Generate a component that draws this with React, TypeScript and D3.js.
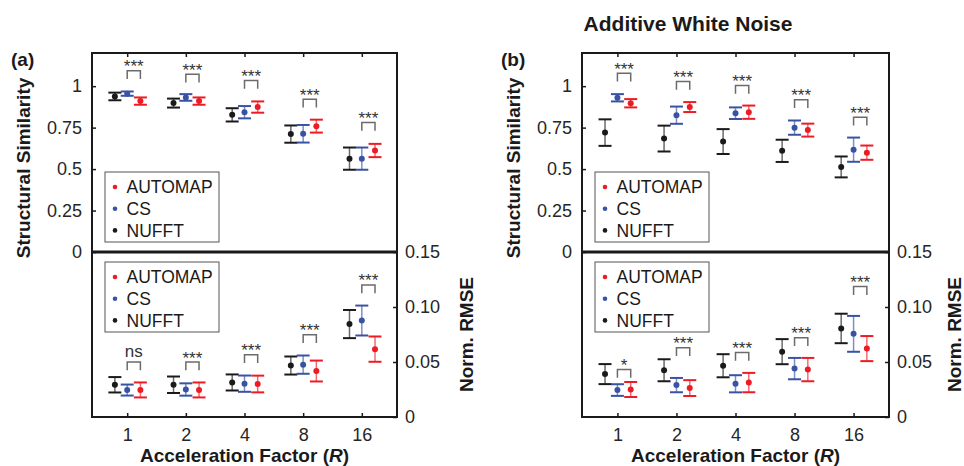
import React, { useEffect, useRef } from "react";
import * as d3 from "d3";

const factors = ["1", "2", "4", "8", "16"];
const methods = ["NUFFT", "CS", "AUTOMAP"];
const legendOrder = ["AUTOMAP", "CS", "NUFFT"];

// (a) structural similarity
const ssimA_nufft = [0.938, 0.898, 0.827, 0.711, 0.563];
const ssimA_nufftErr = [0.023, 0.027, 0.04, 0.052, 0.067];
const ssimA_cs = [0.955, 0.932, 0.843, 0.713, 0.563];
const ssimA_csErr = [0.013, 0.02, 0.037, 0.053, 0.067];
const ssimA_auto = [0.91, 0.91, 0.874, 0.759, 0.612];
const ssimA_autoErr = [0.022, 0.022, 0.034, 0.039, 0.04];
const ssimA_sig = ["***", "***", "***", "***", "***"];
const ssimA_sigLevel = [1.043, 1.022, 0.984, 0.871, 0.731];

// (a) norm. rmse
const rmseA_nufft = [0.0293, 0.0293, 0.0314, 0.0468, 0.0845];
const rmseA_nufftErr = [0.007, 0.0075, 0.0073, 0.0082, 0.0128];
const rmseA_cs = [0.0245, 0.025, 0.0303, 0.0476, 0.0877];
const rmseA_csErr = [0.005, 0.0056, 0.0074, 0.0083, 0.0136];
const rmseA_auto = [0.0246, 0.0246, 0.03, 0.0418, 0.0617];
const rmseA_autoErr = [0.0068, 0.0068, 0.0076, 0.0095, 0.0115];
const rmseA_sig = ["ns", "***", "***", "***", "***"];
const rmseA_sigLevel = [0.0424, 0.0424, 0.049, 0.0672, 0.1125];

// (b) structural similarity, additive white noise
const ssimB_nufft = [0.72, 0.684, 0.666, 0.61, 0.513];
const ssimB_nufftErr = [0.08, 0.078, 0.075, 0.067, 0.063];
const ssimB_cs = [0.93, 0.825, 0.837, 0.75, 0.617];
const ssimB_csErr = [0.022, 0.052, 0.035, 0.043, 0.073];
const ssimB_auto = [0.897, 0.874, 0.843, 0.735, 0.599];
const ssimB_autoErr = [0.025, 0.03, 0.04, 0.039, 0.043];
const ssimB_sig = ["***", "***", "***", "***", "***"];
const ssimB_sigLevel = [1.028, 0.978, 0.954, 0.868, 0.763];

// (b) norm. rmse
const rmseB_nufft = [0.039, 0.0425, 0.0466, 0.0594, 0.0805];
const rmseB_nufftErr = [0.0091, 0.01, 0.0105, 0.0114, 0.0134];
const rmseB_cs = [0.0245, 0.029, 0.0302, 0.044, 0.0756];
const rmseB_csErr = [0.0053, 0.0065, 0.0078, 0.0097, 0.0163];
const rmseB_auto = [0.025, 0.0263, 0.0313, 0.0431, 0.0622];
const rmseB_autoErr = [0.0068, 0.0072, 0.0088, 0.0106, 0.0114];
const rmseB_sig = ["*", "***", "***", "***", "***"];
const rmseB_sigLevel = [0.0356, 0.0554, 0.0511, 0.0645, 0.111];

const ssimTicks = [0, 0.25, 0.5, 0.75, 1];
const ssimTickLabels = ["0", "0.25", "0.5", "0.75", "1"];
const rmseTicks = [0, 0.05, 0.1, 0.15];
const rmseTickLabels = ["0", "0.05", "0.10", "0.15"];

const colors = { NUFFT: "#1a1a1a", CS: "#3953a4", AUTOMAP: "#ed1c24" };
const offsets = { NUFFT: -0.21, CS: 0, AUTOMAP: 0.225 };
const font = '"Liberation Sans", Arial, Helvetica, sans-serif';

const W = 964;
const H = 466;
const TOP = 53;
const MID = 252;
const BOTTOM = 417;

const panels = [
  {
    x0: 92, x1: 397, label: "(a)", title: null,
    ssim: { NUFFT: [ssimA_nufft, ssimA_nufftErr], CS: [ssimA_cs, ssimA_csErr], AUTOMAP: [ssimA_auto, ssimA_autoErr] },
    rmse: { NUFFT: [rmseA_nufft, rmseA_nufftErr], CS: [rmseA_cs, rmseA_csErr], AUTOMAP: [rmseA_auto, rmseA_autoErr] },
    ssimSig: [ssimA_sig, ssimA_sigLevel],
    rmseSig: [rmseA_sig, rmseA_sigLevel],
  },
  {
    x0: 582, x1: 889, label: "(b)", title: "Additive White Noise",
    ssim: { NUFFT: [ssimB_nufft, ssimB_nufftErr], CS: [ssimB_cs, ssimB_csErr], AUTOMAP: [ssimB_auto, ssimB_autoErr] },
    rmse: { NUFFT: [rmseB_nufft, rmseB_nufftErr], CS: [rmseB_cs, rmseB_csErr], AUTOMAP: [rmseB_auto, rmseB_autoErr] },
    ssimSig: [ssimB_sig, ssimB_sigLevel],
    rmseSig: [rmseB_sig, rmseB_sigLevel],
  },
];

function drawErrorBars(g, x, y, series) {
  methods.forEach((m) => {
    const [vals, errs] = series[m];
    const grp = g.append("g");
    vals.forEach((v, i) => {
      const cx = x(i + 1 + offsets[m]);
      const lo = y(v - errs[i]);
      const hi = y(v + errs[i]);
      grp.append("line")
        .attr("x1", cx).attr("x2", cx).attr("y1", lo).attr("y2", hi)
        .attr("stroke", colors[m]).attr("stroke-width", 1.5).attr("stroke-opacity", 0.65);
      [lo, hi].forEach((cy) => {
        grp.append("line")
          .attr("x1", cx - 6.5).attr("x2", cx + 6.5).attr("y1", cy).attr("y2", cy)
          .attr("stroke", colors[m]).attr("stroke-width", 2);
      });
      grp.append("circle").attr("cx", cx).attr("cy", y(v)).attr("r", 3).attr("fill", colors[m]);
    });
  });
}

function drawSig(g, x, y, sig) {
  const [labels, levels] = sig;
  labels.forEach((lab, i) => {
    const xa = x(i + 1 + offsets.CS);
    const xb = x(i + 1 + offsets.AUTOMAP);
    const yb = y(levels[i]);
    const yt = yb - 8.3;
    g.append("path")
      .attr("d", `M${xa},${yb}V${yt}H${xb}V${yb}`)
      .attr("fill", "none").attr("stroke", "#6b6b6b").attr("stroke-width", 1.5);
    g.append("text")
      .attr("x", (xa + xb) / 2)
      .attr("y", lab === "ns" ? yt - 5 : yt + 1.5)
      .attr("text-anchor", "middle")
      .attr("fill", "#333")
      .style("font-size", "17px")
      .text(lab);
  });
}

function drawLegend(g, lx, ly) {
  g.append("rect")
    .attr("x", lx).attr("y", ly).attr("width", 114).attr("height", 70)
    .attr("fill", "white").attr("stroke", "#555").attr("stroke-width", 1);
  legendOrder.forEach((m, i) => {
    const cy = ly + 15 + i * 21.7;
    g.append("circle").attr("cx", lx + 10).attr("cy", cy).attr("r", 2.3).attr("fill", colors[m]);
    g.append("text")
      .attr("x", lx + 21.5).attr("y", cy).attr("dy", "0.36em")
      .attr("fill", "#1a1a1a").style("font-size", "17.5px")
      .text(m);
  });
}

function styleAxis(a) {
  a.select(".domain").remove();
  a.selectAll("line").attr("stroke", "#1a1a1a").attr("stroke-width", 1.5);
  a.selectAll("text").attr("fill", "#262626").style("font-size", "18px").style("font-family", font);
}

function drawPanel(svg, p) {
  const g = svg.append("g");
  const x = d3.scaleLinear().domain([0.4, 5.6]).range([p.x0, p.x1]);
  const yTop = d3.scaleLinear().domain([0, 1.2]).range([MID, TOP]);
  const yBot = d3.scaleLinear().domain([0, 0.15]).range([BOTTOM, MID]);
  const xTicks = factors.map((f, i) => i + 1);

  // axes
  g.append("g").attr("transform", `translate(${p.x0},0)`)
    .call(d3.axisLeft(yTop).tickValues(ssimTicks).tickFormat((d, i) => ssimTickLabels[i]).tickSize(-4).tickPadding(10))
    .call(styleAxis);
  g.append("g").attr("transform", `translate(${p.x1},0)`)
    .call(d3.axisRight(yBot).tickValues(rmseTicks).tickFormat((d, i) => rmseTickLabels[i]).tickSize(-4).tickPadding(8))
    .call(styleAxis);
  g.append("g").attr("transform", `translate(0,${TOP})`)
    .call(d3.axisTop(x).tickValues(xTicks).tickFormat(() => "").tickSize(-4))
    .call(styleAxis);
  g.append("g").attr("transform", `translate(0,${BOTTOM})`)
    .call(d3.axisBottom(x).tickValues(xTicks).tickFormat((d) => factors[d - 1]).tickSize(-4).tickPadding(11))
    .call(styleAxis);

  // frame
  g.append("rect")
    .attr("x", p.x0).attr("y", TOP).attr("width", p.x1 - p.x0).attr("height", BOTTOM - TOP)
    .attr("fill", "none").attr("stroke", "#1a1a1a").attr("stroke-width", 2);
  g.append("line")
    .attr("x1", p.x0).attr("x2", p.x1).attr("y1", MID).attr("y2", MID)
    .attr("stroke", "#1a1a1a").attr("stroke-width", 3);

  drawLegend(g, p.x0 + 13, MID - 80);
  drawLegend(g, p.x0 + 13, MID + 10);

  drawErrorBars(g, x, yTop, p.ssim);
  drawErrorBars(g, x, yBot, p.rmse);
  drawSig(g, x, yTop, p.ssimSig);
  drawSig(g, x, yBot, p.rmseSig);

  // titles
  g.append("text")
    .attr("transform", `translate(${p.x0 - 62},168) rotate(-90)`)
    .attr("text-anchor", "middle").attr("fill", "#1a1a1a")
    .style("font-size", "19px").style("font-weight", "bold")
    .text("Structural Similarity");
  g.append("text")
    .attr("transform", `translate(${Math.min(p.x1 + 76, W - 3)},${(MID + BOTTOM) / 2}) rotate(-90)`)
    .attr("text-anchor", "middle").attr("fill", "#1a1a1a")
    .style("font-size", "19px").style("font-weight", "bold")
    .text("Norm. RMSE");
  const xt = g.append("text")
    .attr("x", (p.x0 + p.x1) / 2).attr("y", 462)
    .attr("text-anchor", "middle").attr("fill", "#1a1a1a")
    .style("font-size", "19px").style("font-weight", "bold");
  xt.append("tspan").text("Acceleration Factor (");
  xt.append("tspan").style("font-style", "italic").text("R");
  xt.append("tspan").text(")");

  g.append("text")
    .attr("x", p.x0 - 81).attr("y", 66)
    .attr("fill", "#1a1a1a")
    .style("font-size", "19px").style("font-weight", "bold")
    .text(p.label);

  if (p.title) {
    g.append("text")
      .attr("x", p.x0 + 106).attr("y", 31)
      .attr("text-anchor", "middle").attr("fill", "#1a1a1a")
      .style("font-size", "21px").style("font-weight", "bold")
      .text(p.title);
  }
}

export default function App() {
  const ref = useRef(null);

  useEffect(() => {
    const svg = d3.select(ref.current);
    svg.selectAll("*").remove();
    svg.append("rect").attr("width", W).attr("height", H).attr("fill", "white");
    panels.forEach((p) => drawPanel(svg, p));
  }, []);

  return (
    <svg
      ref={ref}
      width={W}
      height={H}
      style={{ position: "absolute", left: 0, top: 0, fontFamily: font }}
    />
  );
}
